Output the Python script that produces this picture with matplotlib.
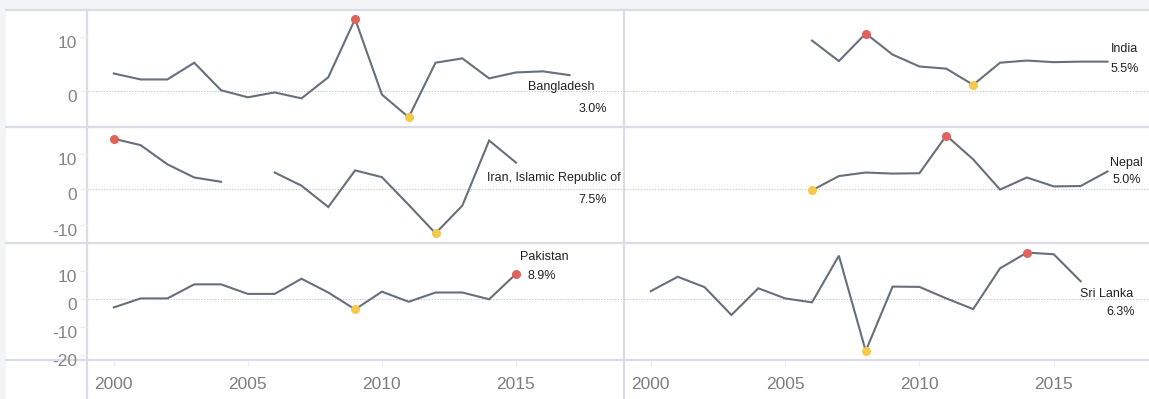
import numpy as np
import matplotlib.pyplot as plt
from matplotlib.lines import Line2D
from matplotlib.patches import Rectangle

plt.rcParams["font.family"] = ["Liberation Sans", "DejaVu Sans"]

nan = np.nan

BANGLADESH_YEARS = list(range(2000, 2018))
BANGLADESH = [3.3, 2.2, 2.2, 5.3, 0.2, -1.1, -0.2, -1.3, 2.6, 13.4, -0.6, -4.8,
              5.3, 6.1, 2.4, 3.5, 3.7, 3.0]

INDIA_YEARS = list(range(2006, 2018))
INDIA = [9.4, 5.6, 10.7, 6.8, 4.6, 4.2, 1.2, 5.3, 5.7, 5.4, 5.5, 5.5]

IRAN_YEARS = list(range(2000, 2016))
IRAN = [14.2, 12.4, 7.0, 3.3, 2.1, nan, 4.7, 1.0, -5.0, 5.3, 3.4, -4.4,
        -12.4, -4.6, 13.7, 7.5]

NEPAL_YEARS = list(range(2006, 2018))
NEPAL = [-0.3, 3.7, 4.7, 4.4, 4.5, 15.1, 8.4, -0.1, 3.3, 0.8, 0.9, 5.0]

PAKISTAN_YEARS = list(range(2000, 2016))
PAKISTAN = [-3.0, 0.2, 0.2, 5.2, 5.2, 1.8, 1.8, 7.2, 2.3, -3.7, 2.6, -1.0,
            2.3, 2.3, -0.1, 8.9]

SRI_LANKA_YEARS = list(range(2000, 2017))
SRI_LANKA = [2.8, 7.9, 4.2, -5.7, 3.8, 0.2, -1.2, 15.4, -18.5, 4.4, 4.3, 0.2,
             -3.6, 10.9, 16.5, 15.9, 6.3]

X_TICKS = [2000, 2005, 2010, 2015]
ROW_YTICKS = [[0, 10], [-10, 0, 10], [-20, -10, 0, 10]]
ROW_YLIMS = [(-6.6, 15.0), (-15.2, 17.5), (-21.7, 19.8)]

# (name, years, values, row, col, name offset px, name ha, value offset px, value ha)
PANELS = [
    ("Bangladesh", BANGLADESH_YEARS, BANGLADESH, 0, 0, (-8, -12), "center", (37, -34), "right"),
    ("India", INDIA_YEARS, INDIA, 0, 1, (3, 12.5), "left", (3, -7.5), "left"),
    ("Iran, Islamic Republic of", IRAN_YEARS, IRAN, 1, 0, (-29, -15.5), "left", (91, -37.5), "right"),
    ("Nepal", NEPAL_YEARS, NEPAL, 1, 1, (3, 8), "left", (5, -8.5), "left"),
    ("Pakistan", PAKISTAN_YEARS, PAKISTAN, 2, 0, (28.5, 17), "center", (12, -2), "left"),
    ("Sri Lanka", SRI_LANKA_YEARS, SRI_LANKA, 2, 1, (-1, -12.7), "left", (25.5, -30.7), "left"),
]

LINE_C = "#686f79"
MAX_C = "#e2625e"
MIN_C = "#f4c94e"
GRID_C = "#dcdce4"
BG_C = "#f3f4f6"

W, H = 1149, 399
fig = plt.figure(figsize=(W / 100, H / 100), dpi=100, facecolor=BG_C)

# white chart area and frame lines (pixel coordinates, top-down)
fig.patches.append(Rectangle((6 / W, 0), 1 - 6 / W, (H - 10.3) / H,
                             transform=fig.transFigure, facecolor="white",
                             edgecolor="none", zorder=-5))
for y in [10.3, 127, 243.3, 360]:
    fig.lines.append(Line2D([6 / W, 1], [1 - y / H] * 2, transform=fig.transFigure,
                            color=GRID_C, lw=1.6, zorder=-1))
for x in [87, 624]:
    fig.lines.append(Line2D([x / W] * 2, [0, 1 - 10.3 / H], transform=fig.transFigure,
                            color=GRID_C, lw=1.6, zorder=-1))

row_px = [(10.3, 127), (127, 243.3), (243.3, 360)]
col_px = [(87, 624), (624, 1162)]

for name, years, vals, r, c, noff, nha, voff, vha in PANELS:
    top, bot = row_px[r]
    x0, x1 = col_px[c]
    ax = fig.add_axes([x0 / W, 1 - bot / H, (x1 - x0) / W, (bot - top) / H])
    ax.patch.set_alpha(0)
    for s in ax.spines.values():
        s.set_visible(False)

    yrs = np.array(years)
    v = np.array(vals, dtype=float)
    ax.axhline(0, color="#c4c4c4", lw=0.8, ls=(0, (1, 1.5)), zorder=1)
    ax.plot(yrs, v, color=LINE_C, lw=1.5, zorder=3, solid_joinstyle="miter")

    imax, imin = np.nanargmax(v), np.nanargmin(v)
    ax.plot(yrs[imax], v[imax], "o", color=MAX_C, ms=6.5, mec="none", zorder=4)
    ax.plot(yrs[imin], v[imin], "o", color=MIN_C, ms=6.5, mec="none", zorder=4)

    ax.set_xlim(1999.0, 2019.03)
    ax.set_ylim(*ROW_YLIMS[r])
    ax.set_yticks(ROW_YTICKS[r])
    ax.tick_params(axis="y", left=(c == 0), labelleft=False, length=5,
                   color="#efefef", width=1)
    if c == 0:
        for t in ROW_YTICKS[r]:
            ax.annotate(str(t), xy=(0, t), xycoords=("axes fraction", "data"),
                        xytext=(-10, -6.5), textcoords="offset pixels",
                        ha="right", va="center", fontsize=12.5, color="#858585")

    ax.set_xticks(X_TICKS)
    if r == 2:
        ax.tick_params(axis="x", length=4, color="#ececec", pad=8,
                       labelsize=12.5, labelcolor="#7d7d7d")
    else:
        ax.tick_params(axis="x", bottom=False, labelbottom=False)

    # series name and latest value next to the last point
    last = np.flatnonzero(~np.isnan(v))[-1]
    ax.annotate(name, xy=(yrs[last], v[last]), xytext=noff, textcoords="offset pixels",
                ha=nha, va="center", fontsize=9, color="#222222", zorder=6,
                annotation_clip=False)
    ax.annotate(f"{v[last]:.1f}%", xy=(yrs[last], v[last]), xytext=voff,
                textcoords="offset pixels", ha=vha, va="center", fontsize=9,
                color="#222222", zorder=6, annotation_clip=False)

fig.savefig("out.png", dpi=100, facecolor=BG_C)
